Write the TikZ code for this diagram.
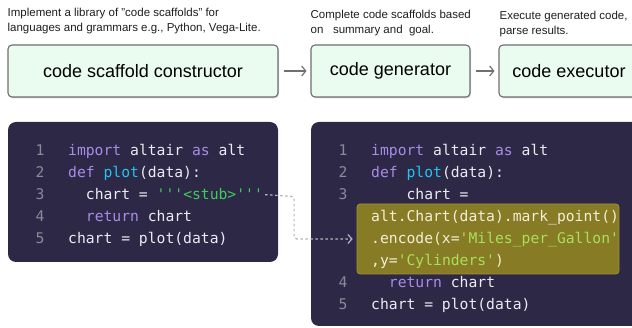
\documentclass[tikz,border=0pt]{standalone}
\usepackage{fontspec}
\setmainfont{Liberation Sans}
\setmonofont{DejaVu Sans Mono}
\usetikzlibrary{arrows.meta,positioning,shadows}

\definecolor{stagefill}{HTML}{EAFBEF}
\definecolor{stageline}{HTML}{6E6E6E}
\definecolor{notetext}{HTML}{1E1E1E}
\definecolor{arrowgray}{HTML}{707070}
\definecolor{linkgray}{HTML}{B4B4BC}
\definecolor{codebg}{HTML}{2D2846}
\definecolor{plain}{HTML}{ECEAF2}
\definecolor{numgray}{HTML}{8C8A99}
\definecolor{kw}{HTML}{A98BE8}
\definecolor{fn}{HTML}{22C4F0}
\definecolor{str}{HTML}{3FCB5E}
\definecolor{hlfill}{HTML}{877B26}
\definecolor{hlline}{HTML}{A0943A}
\definecolor{hltext}{HTML}{F2EFD6}
\definecolor{hlstr}{HTML}{A8E05A}

\begin{document}
\begin{tikzpicture}[x=1pt, y=-1pt, node distance=1cm]
\tikzset{
    stagebox/.style={rectangle, rounded corners=4pt, draw=stageline, fill=stagefill, line width=1.1pt, minimum height=52pt, font=\fontsize{18}{22}\selectfont, drop shadow={shadow xshift=1pt, shadow yshift=-1.5pt, opacity=.3}},
    stagenote/.style={align=left, inner sep=0pt, text=notetext, font=\fontsize{11.5}{15.5}\selectfont},
    flowarrow/.style={-{Straight Barb[length=4pt,width=10pt]}, draw=arrowgray, line width=1.2pt, shorten >=4pt, shorten <=5pt},
    codepanel/.style={rectangle, rounded corners=8pt, fill=codebg, inner sep=0pt},
    codeline/.style={anchor=base west, inner sep=0pt, text=plain, font=\ttfamily\fontsize{14.7}{22}\selectfont},
    lineno/.style={anchor=base, inner sep=0pt, text=numgray, font=\ttfamily\fontsize{14.7}{22}\selectfont},
    linkarrow/.style={-{Straight Barb[length=4pt,width=9pt]}, draw=linkgray, line width=1.2pt, dash pattern=on 2.5pt off 2.5pt, rounded corners=3pt, shorten <=2pt, shorten >=4pt}
}
\useasboundingbox (0,0) rectangle (632,328);
\clip (0,0) rectangle (632,328);

% pipeline stages
\node[stagebox, minimum width=270pt] (constructor) at (143,71) {code scaffold constructor};
\node[stagebox, minimum width=159pt] (generator) at (390.5,71) {code generator};
\node[stagebox, minimum width=140pt] (executor) at (569,71) {code executor};

\node[stagenote, above right=10pt and 0pt of constructor.north west] (constructornote) {Implement a library of "code scaffolds" for\\languages and grammars e.g., Python, Vega-Lite.};
\node[stagenote, above right=8pt and 0pt of generator.north west] (generatornote) {Complete code scaffolds based\\on\ \ \ summary and\ \ goal.};
\node[stagenote, above right=7pt and 1pt of executor.north west] (executornote) {Execute generated code,\\parse results.};

\draw[flowarrow] (constructor) -- (generator);
\draw[flowarrow] (generator) -- (executor);

% scaffold with stub
\node[codepanel, minimum width=270pt, minimum height=140pt] (stubpanel) at (143,192) {};
\node[lineno] (sn1) at (40,156) {1};
\node[lineno] (sn2) at (40,178) {2};
\node[lineno] (sn3) at (40,200) {3};
\node[lineno] (sn4) at (40,222) {4};
\node[lineno] (sn5) at (40,244) {5};
\node[codeline] (sl1) at (68,156) {\textcolor{kw}{import} altair \textcolor{kw}{as} alt};
\node[codeline] (sl2) at (68,178) {\textcolor{kw}{def} \textcolor{fn}{plot}(data):};
\node[codeline] (sl3) at (85.7,200) {chart =};
\node[codeline, text=str] (stub) at (156.5,200) {'''<stub>'''};
\node[codeline] (sl4) at (85.7,222) {\textcolor{kw}{return} chart};
\node[codeline] (sl5) at (68,244) {chart = plot(data)};

% completed scaffold
\node[codepanel, minimum width=334pt, minimum height=204pt] (fullpanel) at (478,224) {};
\node[rectangle, rounded corners=3pt, fill=hlfill, draw=hlline, line width=.6pt, minimum width=262pt, minimum height=70pt] (generated) at (488,239) {};
\node[lineno] (fn1) at (343,156) {1};
\node[lineno] (fn2) at (343,178) {2};
\node[lineno] (fn3) at (343,200) {3};
\node[lineno] (fn4) at (343,288) {4};
\node[lineno] (fn5) at (343,310) {5};
\node[codeline] (fl1) at (371,156) {\textcolor{kw}{import} altair \textcolor{kw}{as} alt};
\node[codeline] (fl2) at (371,178) {\textcolor{kw}{def} \textcolor{fn}{plot}(data):};
\node[codeline] (fl3) at (406.4,200) {chart =};
\node[codeline, text=hltext] (gl1) at (371,222) {alt.Chart(data).mark\_point()};
\node[codeline, text=hltext] (gl2) at (371,244) {.encode(x=\textcolor{hlstr}{'Miles\_per\_Gallon'}};
\node[codeline, text=hltext] (gl3) at (371,266) {,y=\textcolor{hlstr}{'Cylinders'})};
\node[codeline] (fl4) at (388.7,288) {\textcolor{kw}{return} chart};
\node[codeline] (fl5) at (371,310) {chart = plot(data)};

\draw[linkarrow] (stub.east) -- ++(31,2) |- (generated.west);

\end{tikzpicture}
\end{document}
